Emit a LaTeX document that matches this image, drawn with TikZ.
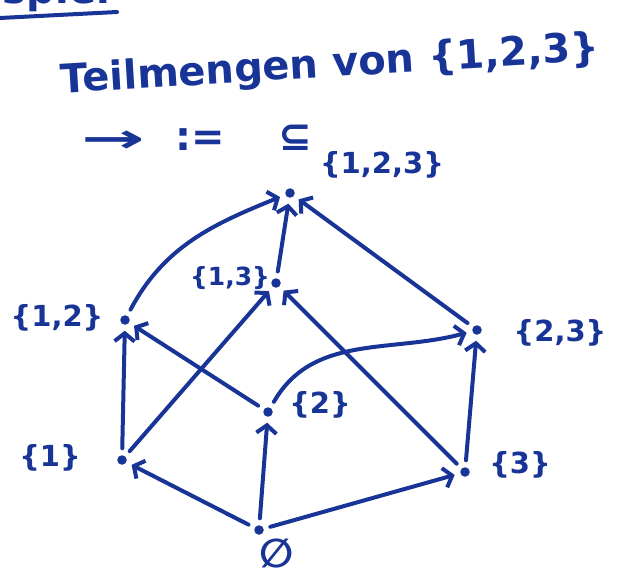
\documentclass[tikz,border=0pt]{standalone}
\usepackage{fontspec}
\setmainfont{DejaVu Sans}
\usetikzlibrary{arrows.meta}
\definecolor{ink}{RGB}{24,52,150}
\newcommand{\bigfont}{\fontsize{40}{46}\selectfont\bfseries}
\newcommand{\setfont}{\fontsize{29}{34}\selectfont\bfseries}
\newcommand{\smallsetfont}{\fontsize{25}{30}\selectfont\bfseries}
\tikzset{
  pt/.style={circle, fill=ink, inner sep=0pt, minimum size=9.5pt},
  menge/.style={text=ink, font=\setfont, inner sep=0pt},
  kopf/.style={text=ink, font=\bigfont, inner sep=0pt},
  pfeil/.style={->, shorten <=5pt, shorten >=4pt}
}
\begin{document}
\begin{tikzpicture}[x=1pt, y=-1pt, line join=round, line cap=round, line width=4pt, draw=ink, >={Straight Barb[length=8pt, width=20pt]}]
\useasboundingbox (0,0) rectangle (618,577);
% Ueberschrift
\node[kopf, anchor=base east] (bsp) at (112,4) {Beispiel};
\draw[ink] (0,18) -- (117,12);
\node[kopf, rotate=3.5] (titel) at (330,66) {Teilmengen von \{1,2,3\}};
\node[kopf] (pf) at (113,142) {\scalebox{1.9}[1]{→}};
\node[kopf] (defeq) at (200,140) {:=};
\node[kopf] (sub) at (295,138) {⊆};
% Teilmengen
\node[pt] (e) at (259,530) {};
\node[pt] (s1) at (122,460) {};
\node[pt] (s2) at (268,412) {};
\node[pt] (s3) at (465,472) {};
\node[pt] (s12) at (125,320) {};
\node[pt] (s13) at (276,283) {};
\node[pt] (s23) at (477,330) {};
\node[pt] (s123) at (290,193) {};
\node[menge, font=\bigfont] (le) at (277,553) {∅};
\node[menge] (l1) at (50,458) {\{1\}};
\node[menge] (l2) at (320,405) {\{2\}};
\node[menge] (l3) at (520,465) {\{3\}};
\node[menge] (l12) at (57,318) {\{1,2\}};
\node[menge, font=\smallsetfont] (l13) at (230,278) {\{1,3\}};
\node[menge] (l23) at (560,333) {\{2,3\}};
\node[menge] (l123) at (382,165) {\{1,2,3\}};
% Inklusionen
\draw[pfeil] (e) -- (s1);
\draw[pfeil] (e) -- (s2);
\draw[pfeil] (e) -- (s3);
\draw[pfeil] (s1) -- (s12);
\draw[pfeil] (s1) -- (s13);
\draw[pfeil] (s2) -- (s12);
\draw[pfeil] (s2) to[out=60, in=195] (s23);
\draw[pfeil] (s3) -- (s23);
\draw[pfeil] (s3) -- (s13);
\draw[pfeil] (s12) to[out=62, in=202] (s123);
\draw[pfeil] (s13) -- (s123);
\draw[pfeil] (s23) -- (s123);
\end{tikzpicture}
\end{document}
